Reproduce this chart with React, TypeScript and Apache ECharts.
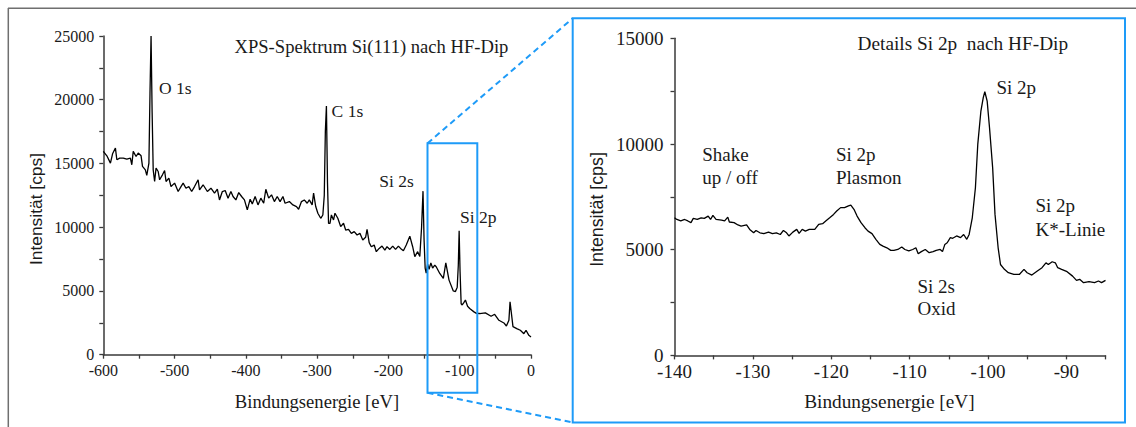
import React, { useEffect, useRef } from 'react';
import * as echarts from 'echarts';

// Survey spectrum (left)
const surveyEnergy = [
  -600, -595, -590, -587, -583, -581, -577, -572, -567, -562, -560, -558, -554, -551, -547, -545, -541, -539,
  -536, -534.5, -533, -531.5, -530, -528, -526, -523, -521, -517, -514, -512, -508, -505, -500, -495, -491, -488,
  -484, -480, -476, -472, -467, -465, -460, -454, -449, -444, -440, -437, -433, -429, -425, -421, -418, -414,
  -410, -406, -402, -398, -394, -391, -387, -383, -379, -375, -372, -368, -364, -360, -356, -352, -348, -345,
  -339, -334, -329, -326, -322, -318, -314, -311, -307, -305, -302, -299, -295, -292, -290, -288.5, -287, -285.5,
  -284, -282, -280, -277, -275, -271, -267, -263, -260, -256, -252, -248, -244, -240, -236, -232, -230, -227,
  -224, -220, -217, -213, -209, -205, -202, -198, -194, -190, -186, -183, -179, -175, -170, -166, -163, -159,
  -156, -153.5, -151.5, -150, -148.5, -147, -145, -143, -140.5, -138, -135, -133, -128, -123, -119.5, -115,
  -109, -106, -103.5, -102, -100.8, -99.5, -98, -96.5, -94, -92, -89, -86, -80, -76.5, -72, -64, -56, -51, -45,
  -38, -34.5, -31, -29.4, -25.3, -20, -15, -10, -7, -3, 0,
];
const surveyIntensity = [
  15950, 15600, 15030, 15760, 16210, 15290, 15420, 15420, 15340, 15420, 14900, 15950, 15550, 15820, 15600, 14770, 14500, 14060,
  15030, 20500, 25000, 19000, 14500, 13590, 14640, 14370, 13720, 14110, 14450, 13590, 13850, 13190, 13460, 12800, 13190, 13460,
  13060, 13190, 12800, 13190, 13720, 12930, 13330, 12800, 13060, 12670, 12980, 12140, 12800, 12880, 12280, 12800, 12410, 12140,
  12720, 12410, 12140, 11360, 12200, 11830, 12410, 11750, 12280, 11880, 12980, 12280, 12540, 12010, 12410, 12010, 12410, 11880,
  12010, 11750, 11620, 11410, 12010, 12140, 11880, 12140, 11750, 12670, 11620, 11100, 10700, 10960, 12500, 17500, 19500, 13500,
  10300, 10310, 10960, 10570, 11100, 10700, 10050, 10310, 9780, 9840, 9520, 9650, 9390, 9520, 9000, 9210, 9840, 8790,
  8470, 8600, 8080, 8340, 8520, 8210, 8470, 8260, 8520, 8260, 8520, 8340, 8160, 8600, 9300, 8470, 7690, 8080,
  7700, 10000, 12830, 9000, 6800, 6400, 7100, 6700, 7200, 6800, 7030, 6900, 6370, 5980, 7210, 5850,
  5000, 4950, 5300, 7000, 9720, 6500, 4000, 3900, 4100, 4290, 3800, 3620, 3360, 3240, 3230, 3280, 3020, 3170, 2700,
  2490, 2250, 2700, 4150, 2200, 2050, 1920, 1650, 1920, 1520, 1390,
];

// Detail spectrum Si 2p (right)
const detailEnergy = [
  -140, -139.7, -139.2, -138.7, -138.3, -137.9, -137.6, -137.1, -136.6, -136.2, -135.7, -135.4, -135.1, -134.7,
  -134.0, -133.6, -133.2, -133.0, -132.4, -131.9, -131.5, -130.8, -130.4, -129.9, -129.6, -129.1, -128.6, -128.0,
  -127.5, -127.0, -126.5, -126.1, -125.7, -125.4, -124.9, -124.4, -124.1, -123.7, -123.3, -122.8, -122.1, -121.6,
  -121.1, -120.7, -120.2, -119.7, -119.3, -118.8, -118.3, -117.8, -117.5, -117.1, -116.7, -116.2, -115.7, -115.3,
  -114.8, -114.3, -113.8, -113.4, -112.9, -112.4, -112.0, -111.5, -111.0, -110.6, -110.1, -109.6, -109.2, -108.9,
  -108.5, -108.0, -107.5, -107.0, -106.6, -106.1, -105.8, -105.5, -105.2, -104.8, -104.5, -104.0, -103.5, -103.1,
  -102.7, -102.4, -102.0, -101.6, -101.3, -100.9, -100.6, -100.4, -100.1, -99.8, -99.4, -99.1, -98.7, -98.4,
  -97.9, -97.4, -96.7, -96.0, -95.4, -95.0, -94.4, -93.7, -93.1, -92.6, -92.3, -91.8, -91.4, -91.1, -90.6, -89.9,
  -89.2, -88.7, -88.3, -87.8, -87.1, -86.4, -85.9, -85.5, -85.0,
];
const detailIntensity = [
  6510, 6430, 6360, 6430, 6360, 6280, 6480, 6430, 6510, 6480, 6590, 6430, 6620, 6430,
  6400, 6360, 6540, 6310, 6280, 6170, 6120, 6170, 5960, 5800, 5910, 5800, 5760, 5830,
  5760, 5800, 5720, 5910, 5800, 5650, 5830, 5960, 5770, 5960, 5880, 5960, 5960, 6200,
  6230, 6360, 6510, 6670, 6830, 6990, 6990, 7070, 7110, 6910, 6590, 6280, 6040, 5880,
  5760, 5490, 5250, 5170, 5090, 4970, 4970, 5010, 5130, 5010, 4940, 5010, 5090, 4810,
  4910, 5010, 4860, 4910, 4970, 5010, 4910, 5250, 5330, 5570, 5540, 5650, 5570, 5720,
  5490, 5720, 6510, 7930, 9980, 11560, 12190, 12470, 12030, 10770, 8880, 6670, 5090, 4300,
  4070, 3910, 3830, 3830, 4070, 3910, 3800, 3990, 4150, 4380, 4300, 4430, 4380, 4150, 4070, 3960,
  3750, 3550, 3600, 3440, 3490, 3440, 3520, 3440, 3550,
];

const SERIF = "'Liberation Serif', 'Times New Roman', serif";
const SANS = "'Liberation Sans', Arial, sans-serif";
const AXIS_COLOR = '#3a3a3a';
const TEXT_COLOR = '#1a1a1a';
const BLUE = '#1e9bf8';

function makeAxis(gridIndex: number, min: number, max: number, interval: number, labelStep: number, fontSize: number, margin: number) {
  return {
    type: 'value',
    gridIndex,
    min,
    max,
    interval,
    axisLine: { show: true, onZero: false, lineStyle: { color: AXIS_COLOR, width: 1.5 } },
    axisTick: { show: true, inside: false, length: 4, lineStyle: { color: AXIS_COLOR, width: 1.3 } },
    splitLine: { show: false },
    axisLabel: {
      show: true,
      margin,
      color: TEXT_COLOR,
      fontFamily: SERIF,
      fontSize,
      showMinLabel: true,
      showMaxLabel: true,
      hideOverlap: false,
      formatter: (v: number) => (Math.abs(v % labelStep) < 1e-9 ? String(v) : ''),
    },
  };
}

function txt(text: string, x: number, y: number, fontSize: number, align = 'left', family = SERIF, rotation = 0) {
  return {
    type: 'text',
    x,
    y,
    rotation,
    z: 10,
    style: {
      text,
      fill: TEXT_COLOR,
      fontSize,
      fontFamily: family,
      textAlign: align,
      textVerticalAlign: 'middle',
    },
  };
}

export default function App() {
  const ref = useRef<HTMLDivElement>(null);
  useEffect(() => {
    const chart = echarts.init(ref.current!, null, { renderer: 'svg' });
    const surveyData = surveyEnergy.map((e, i) => [e, surveyIntensity[i]]);
    const detailData = detailEnergy.map((e, i) => [e, detailIntensity[i]]);
    const option = {
      animation: false,
      backgroundColor: '#ffffff',
      grid: [
        { left: 103.3, top: 36, width: 427.7, height: 318.7, outerBoundsMode: 'none', containLabel: false },
        { left: 674.5, top: 38.3, width: 431, height: 317.1, outerBoundsMode: 'none', containLabel: false },
      ],
      xAxis: [
        makeAxis(0, -600, 0, 50, 100, 16, 8),
        makeAxis(1, -140, -85, 5, 10, 19, 7),
      ],
      yAxis: [
        makeAxis(0, 0, 25000, 2500, 5000, 16, 9),
        makeAxis(1, 0, 15000, 2500, 5000, 19, 11),
      ],
      series: [
        {
          type: 'line',
          xAxisIndex: 0,
          yAxisIndex: 0,
          data: surveyData,
          showSymbol: false,
          symbol: 'none',
          lineStyle: { color: '#000', width: 1.3 },
          clip: false,
        },
        {
          type: 'line',
          xAxisIndex: 1,
          yAxisIndex: 1,
          data: detailData,
          showSymbol: false,
          symbol: 'none',
          lineStyle: { color: '#000', width: 1.3 },
          clip: false,
        },
      ],
      graphic: [
        // outer frame
        { type: 'line', shape: { x1: 8, y1: 8.3, x2: 1136, y2: 8.3 }, style: { stroke: '#6f6f6f', lineWidth: 1.5 } },
        { type: 'line', shape: { x1: 8.3, y1: 8, x2: 8.3, y2: 427 }, style: { stroke: '#6f6f6f', lineWidth: 1.5 } },
        // zoom box on survey
        { type: 'rect', shape: { x: 427.5, y: 143.3, width: 49.8, height: 249.4 }, style: { fill: 'none', stroke: BLUE, lineWidth: 2 }, z: 5 },
        // detail panel box
        { type: 'rect', shape: { x: 572.7, y: 18.3, width: 552.3, height: 404.2 }, style: { fill: 'none', stroke: BLUE, lineWidth: 2 }, z: 5 },
        // connecting dashed lines
        { type: 'line', shape: { x1: 427.5, y1: 143.3, x2: 572.7, y2: 18.3 }, style: { stroke: BLUE, lineWidth: 2, lineDash: [6, 4] }, z: 5 },
        { type: 'line', shape: { x1: 427.5, y1: 392.7, x2: 572.7, y2: 422.5 }, style: { stroke: BLUE, lineWidth: 2, lineDash: [6, 4] }, z: 5 },
        // left texts
        txt('XPS-Spektrum Si(111) nach HF-Dip', 234.5, 46.7, 18.6),
        txt('O 1s', 159, 88, 17.5),
        txt('C 1s', 331.6, 110.5, 17.5),
        txt('Si 2s', 379.3, 181, 17.5),
        txt('Si 2p', 460, 216.7, 17.5),
        txt('Bindungsenergie [eV]', 317, 401.7, 18.6, 'center'),
        txt('Intensität [cps]', 36, 209, 17.4, 'center', SANS, Math.PI / 2),
        // right texts
        txt('Details Si 2p  nach HF-Dip', 857.6, 43.3, 19.3),
        txt('Shake', 702.3, 154.3, 19),
        txt('up / off', 702.3, 177.5, 19),
        txt('Si 2p', 836, 154.3, 19),
        txt('Plasmon', 836, 177.5, 19),
        txt('Si 2p', 996.5, 87.5, 19),
        txt('Si 2p', 1035.5, 205, 19),
        txt('K*-Linie', 1035.5, 229.3, 19),
        txt('Si 2s', 917.5, 286, 19),
        txt('Oxid', 917.5, 308.5, 19),
        txt('Bindungsenergie [eV]', 889.4, 401.7, 19.3, 'center'),
        txt('Intensität [cps]', 596.7, 209.5, 17.8, 'center', SANS, Math.PI / 2),
      ],
    };
    chart.setOption(option as any);
    return () => chart.dispose();
  }, []);
  return (
    <div
      ref={ref}
      style={{ position: 'fixed', left: 0, top: 0, width: 1136, height: 427, background: '#fff' }}
    />
  );
}
